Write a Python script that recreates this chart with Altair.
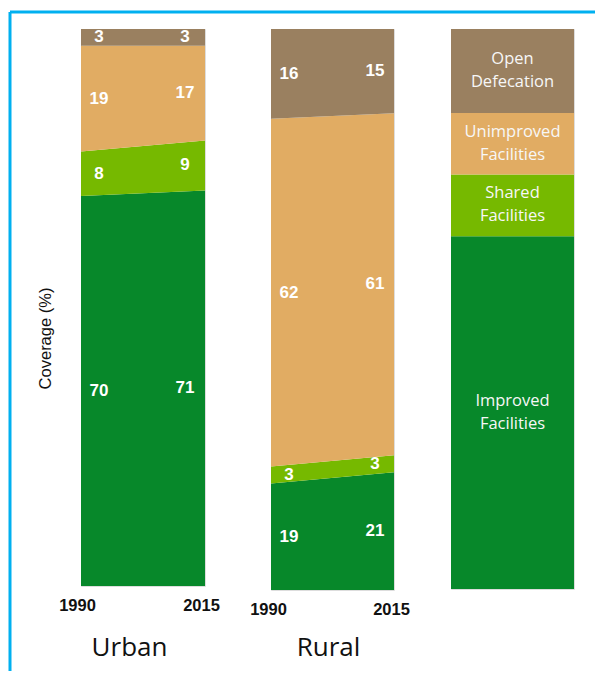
import altair as alt
import pandas as pd

categories = ["Improved Facilities", "Shared Facilities", "Unimproved Facilities", "Open Defecation"]
years = [1990, 2015]
urban_1990 = [70, 8, 19, 3]
urban_2015 = [71, 9, 17, 3]
rural_1990 = [19, 3, 62, 16]
rural_2015 = [21, 3, 61, 15]
legend_sizes = [63, 11, 11, 15]
legend_text = ["Improved\nFacilities", "Shared\nFacilities", "Unimproved\nFacilities", "Open\nDefecation"]
colors = ["#07882A", "#76B900", "#E1AC63", "#9A8060"]


def frame(v1990, v2015):
    rows = []
    for yr, vals in zip(years, [v1990, v2015]):
        for i, (c, v) in enumerate(zip(categories, vals)):
            rows.append({"year": yr, "cat": c, "order": i, "value": v})
    return pd.DataFrame(rows)


color_scale = alt.Scale(domain=categories, range=colors)
y_scale = alt.Scale(domain=[0, 100], nice=False, zero=True)


def panel(df, w, h, title, title_x, title_pad, y_axis, label_off, dx1, dx2):
    base = alt.Chart(df).transform_stack(
        stack="value", groupby=["year"], sort=[alt.SortField("order")], as_=["y0", "y1"]
    ).transform_calculate(mid="(datum.y0 + datum.y1) / 2")
    x = alt.X(
        "year:Q",
        scale=alt.Scale(domain=years, nice=False, zero=False),
        axis=alt.Axis(
            values=years, format="d", labelFlush=False, domain=False, ticks=False, grid=False,
            labelFont="Liberation Sans", labelFontSize=16.5, labelFontWeight="bold", labelColor="#111",
            labelPadding=11, labelOffset=label_off,
            titleFont="Open Sans", titleFontSize=26, titleFontWeight="normal", titleColor="#111",
            titlePadding=title_pad, titleX=title_x,
        ),
        title=title,
    )
    area = base.mark_area(interpolate="linear").encode(
        x=x,
        y=alt.Y("y0:Q", scale=y_scale, axis=y_axis),
        y2="y1:Q",
        color=alt.Color("cat:N", scale=color_scale, legend=None),
        detail="cat:N",
    )
    txt_style = dict(font="Liberation Sans", fontSize=17, fontWeight="bold", color="white", baseline="middle")
    t1 = base.transform_filter("datum.year == 1990").mark_text(dx=dx1, **txt_style).encode(
        x="year:Q", y="mid:Q", text="value:Q"
    )
    t2 = base.transform_filter("datum.year == 2015").mark_text(dx=dx2, **txt_style).encode(
        x="year:Q", y="mid:Q", text="value:Q"
    )
    return alt.layer(area, t1, t2).properties(width=w, height=h)


urban_y_axis = alt.Axis(
    labels=False, ticks=False, domain=False, grid=False, title="Coverage (%)",
    titleFont="Liberation Sans", titleFontSize=16.5, titleFontWeight="normal", titleColor="#111",
    titlePadding=28, titleY=309,
)
urban = panel(frame(urban_1990, urban_2015), 124, 557, "Urban", 48, 21, urban_y_axis, -4, 18, -20)
rural = panel(frame(rural_1990, rural_2015), 123, 561, "Rural", 57, 17, None, -3, 18, -19)

one = pd.DataFrame({"a": [0]})
border_top = alt.Chart(one).mark_rule(color="#00B0F0", strokeWidth=3, clip=False).encode(
    x=alt.value(-71), x2=alt.value(514), y=alt.value(-17)
)
border_left = alt.Chart(one).mark_rule(color="#00B0F0", strokeWidth=3, clip=False).encode(
    x=alt.value(-71), y=alt.value(-17), y2=alt.value(642)
)
urban = alt.layer(urban, border_top, border_left)

leg_df = pd.DataFrame({
    "cat": categories, "order": list(range(4)), "size": legend_sizes, "label": legend_text, "k": ["a"] * 4
})
leg_base = alt.Chart(leg_df).transform_stack(
    stack="size", groupby=["k"], sort=[alt.SortField("order")], as_=["y0", "y1"]
).transform_calculate(mid="(datum.y0 + datum.y1) / 2")
leg_rect = leg_base.mark_rect().encode(
    x=alt.X("k:N", scale=alt.Scale(paddingInner=0, paddingOuter=0), axis=None),
    y=alt.Y("y0:Q", scale=y_scale, axis=None),
    y2="y1:Q",
    color=alt.Color("cat:N", scale=color_scale, legend=None),
)
leg_text = leg_base.mark_text(
    font="Open Sans", fontSize=16.5, color="#F7F7F7", lineBreak="\n", lineHeight=23, baseline="middle", dy=-12
).encode(
    x=alt.X("k:N", axis=None),
    y=alt.Y("mid:Q", scale=y_scale, axis=None),
    text="label:N",
)
legend = alt.layer(leg_rect, leg_text).properties(width=123, height=560)

chart = alt.hconcat(
    urban,
    alt.hconcat(rural, legend, spacing=57, bounds="flush"),
    spacing=66,
    bounds="flush",
).properties(
    padding={"left": 0, "top": 2, "right": 0, "bottom": 0}
).configure_view(stroke="#A0A0A0", strokeWidth=1.2).configure(background="white")

chart.save("out.html", embed_options={"renderer": "svg", "actions": False})
